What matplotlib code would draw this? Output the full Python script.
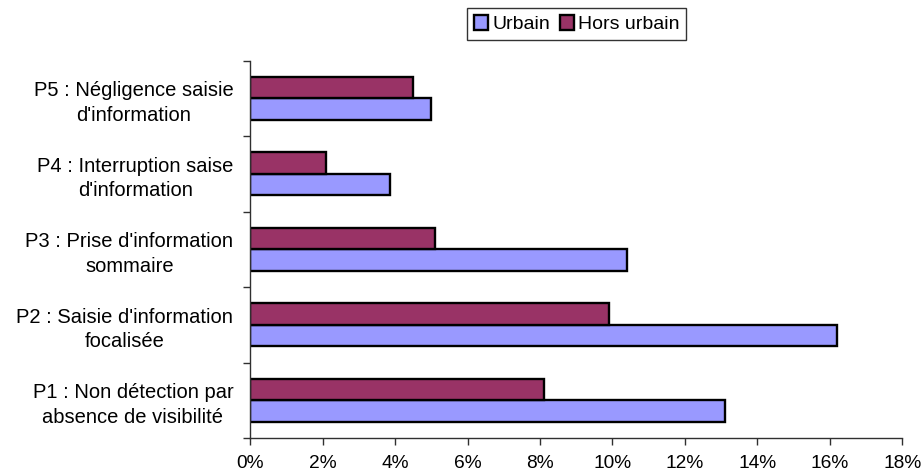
import matplotlib
matplotlib.use("Agg")
import matplotlib.pyplot as plt
import numpy as np
from matplotlib.ticker import FixedLocator, PercentFormatter

categories = [
    "P1 : Non détection par\nabsence de visibilité",
    "P2 : Saisie d'information\nfocalisée",
    "P3 : Prise d'information\nsommaire",
    "P4 : Interruption saise\nd'information",
    "P5 : Négligence saisie\nd'information",
]
urbain = [13.1, 16.2, 10.4, 3.85, 5.0]
hors_urbain = [8.1, 9.9, 5.1, 2.1, 4.5]
series_names = ["Urbain", "Hors urbain"]
xticks = [0, 2, 4, 6, 8, 10, 12, 14, 16, 18]

plt.rcParams['font.family'] = ['Liberation Sans', 'DejaVu Sans']

fig = plt.figure(figsize=(9.24, 4.75), dpi=100)
ax = fig.add_axes([0.2706, 0.0779, 0.9767 - 0.2706, 0.8726 - 0.0779])

y = np.arange(len(categories))
h = 0.287
ax.barh(y - h / 2, urbain, height=h, color="#9999FF", edgecolor="black",
        linewidth=1.7, label=series_names[0])
ax.barh(y + h / 2, hors_urbain, height=h, color="#993366", edgecolor="black",
        linewidth=1.7, label=series_names[1])

ax.set_xlim(0, 18)
ax.set_ylim(-0.5, len(categories) - 0.5)
ax.xaxis.set_major_locator(FixedLocator(xticks))
ax.xaxis.set_major_formatter(PercentFormatter(decimals=0))

ax.set_yticks(np.arange(len(categories) + 1) - 0.5)
ax.set_yticklabels([])
ax.set_yticks(y, minor=True)
ax.set_yticklabels(categories, minor=True)
for t in ax.get_yticklabels(minor=True):
    t.set_multialignment('center')
    t.set_horizontalalignment('right')
    t.set_linespacing(1.38)

ax.tick_params(axis='y', which='minor', length=0, labelsize=14.5, pad=12)
ax.tick_params(axis='y', which='major', length=5, width=1, color='#303030')
ax.tick_params(axis='x', which='major', length=5, width=1, color='#303030',
               labelsize=13.8, pad=7)

for s in ['top', 'right']:
    ax.spines[s].set_visible(False)
for s in ['left', 'bottom']:
    ax.spines[s].set_color('#303030')
    ax.spines[s].set_linewidth(1)

leg = fig.legend(loc='center', bbox_to_anchor=(0.624, 0.949), ncol=2,
                 frameon=True, fancybox=False, edgecolor='black',
                 fontsize=14, handlelength=0.75, handleheight=0.75,
                 handletextpad=0.2, columnspacing=0.5, borderpad=0.35,
                 borderaxespad=0)
leg.get_frame().set_linewidth(1)

fig.savefig("out.png", dpi=100)
